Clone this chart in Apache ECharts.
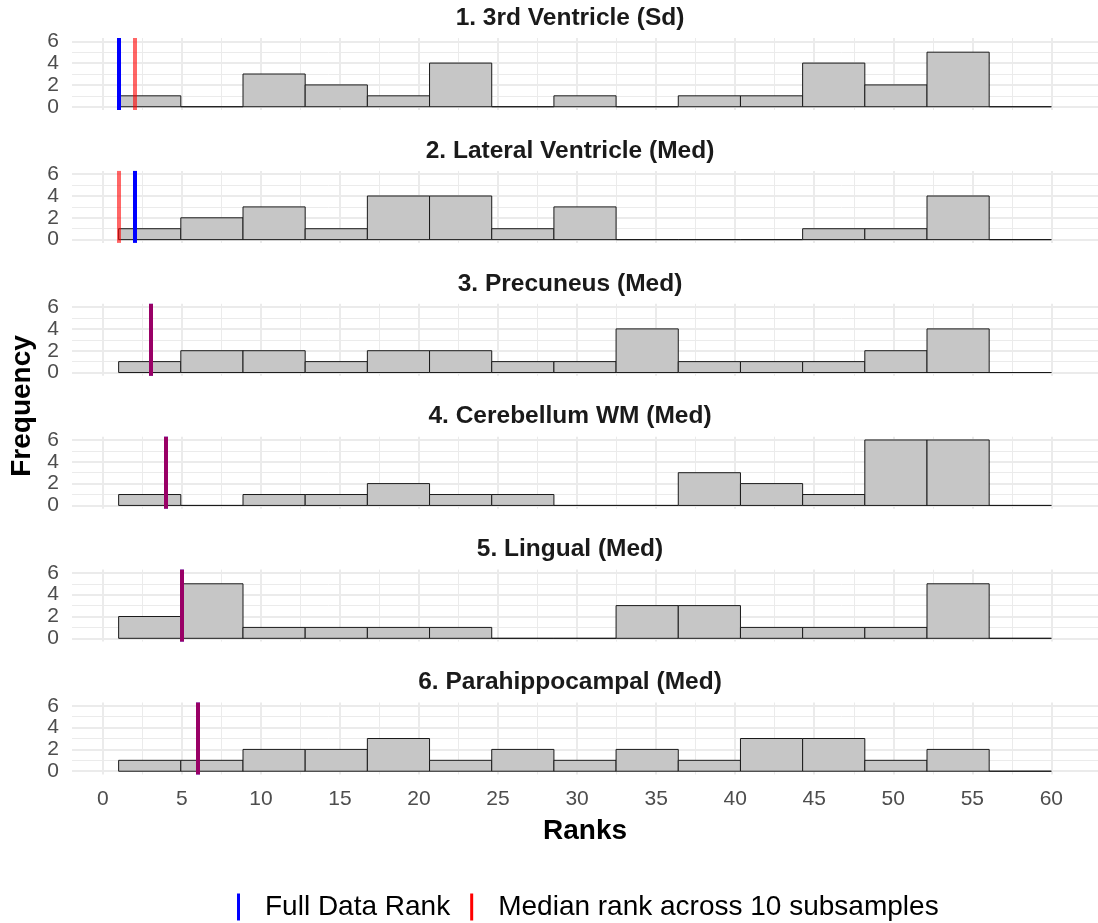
<!DOCTYPE html>
<html>
<head>
<meta charset="utf-8">
<script src="https://cdn.jsdelivr.net/npm/echarts@6/dist/echarts.min.js"></script>
<style>
html,body{margin:0;padding:0;background:#fff;}
#chart{width:1098px;height:923px;}
</style>
</head>
<body>
<div id="chart"></div>
<script>
// ---------------- data ----------------
const panelTitles = [
  '1. 3rd Ventricle (Sd)',
  '2. Lateral Ventricle (Med)',
  '3. Precuneus (Med)',
  '4. Cerebellum WM (Med)',
  '5. Lingual (Med)',
  '6. Parahippocampal (Med)'
];
// histogram bins: 15 equal bins from rank 1 to rank 60
const binLow = 1;
const binHigh = 60;
const binNumber = 15;
const counts3rdVentricle      = [1,0,3,2,1,4,0,1,0,1,1,4,2,5,0];
const countsLateralVentricle  = [1,2,3,1,4,4,1,3,0,0,0,1,1,4,0];
const countsPrecuneus         = [1,2,2,1,2,2,1,1,4,1,1,1,2,4,0];
const countsCerebellumWM      = [1,0,1,1,2,1,1,0,0,3,2,1,6,6,0];
const countsLingual           = [2,5,1,1,1,1,0,0,3,3,1,1,1,5,0];
const countsParahippocampal   = [1,1,2,2,3,1,2,1,2,1,3,3,1,2,0];
const fullDataRank = [1, 2, 3, 4, 5, 6];
const medianRank   = [2, 1, 3, 4, 5, 6];
const xTicks = [0,5,10,15,20,25,30,35,40,45,50,55,60];
const yTicks = [0,2,4,6];
const legendNames = ['Full Data Rank', 'Median rank across 10 subsamples'];

const allCounts = [counts3rdVentricle, countsLateralVentricle, countsPrecuneus,
                   countsCerebellumWM, countsLingual, countsParahippocampal];

// ---------------- layout ----------------
const FONT = '"Liberation Sans", Arial, Helvetica, sans-serif';
const nP = panelTitles.length;
const gridLeft = 72, gridWidth = 1031, gridH = 72, firstTop = 38, step = 132.9;
const xMin = -1.95, xMax = 62.95, yMin = -0.3, yMax = 6.3;

const binW = (binHigh - binLow) / binNumber;
const grids = [], xAxes = [], yAxes = [], series = [], graphics = [];

// gridline values (major + minor)
const xGridVals = [];
for (let i = 0; i < xTicks.length; i++) {
  xGridVals.push({v: xTicks[i], major: true});
  if (i < xTicks.length - 1) xGridVals.push({v: (xTicks[i] + xTicks[i+1]) / 2, major: false});
}
const yGridVals = [];
for (let i = 0; i < yTicks.length; i++) {
  yGridVals.push({v: yTicks[i], major: true});
  if (i < yTicks.length - 1) yGridVals.push({v: (yTicks[i] + yTicks[i+1]) / 2, major: false});
}

for (let p = 0; p < nP; p++) {
  const top = firstTop + step * p;
  grids.push({left: gridLeft, width: gridWidth, top: top, height: gridH, containLabel: false});
  const isBottom = p === nP - 1;
  xAxes.push({
    type: 'value', gridIndex: p, min: xMin, max: xMax,
    axisLine: {show: false}, axisTick: {show: false}, splitLine: {show: false},
    axisLabel: {show: isBottom, customValues: xTicks, color: '#4d4d4d', fontSize: 21,
                fontFamily: FONT, margin: 14}
  });
  yAxes.push({
    type: 'value', gridIndex: p, min: yMin, max: yMax,
    axisLine: {show: false}, axisTick: {show: false}, splitLine: {show: false},
    axisLabel: {show: true, customValues: yTicks, color: '#4d4d4d', fontSize: 21,
                fontFamily: FONT, margin: 13}
  });

  // gridlines
  const gl = [];
  xGridVals.forEach(g => gl.push({xAxis: g.v, lineStyle: {color: '#ebebeb', width: g.major ? 2 : 1, type: 'solid'}}));
  yGridVals.forEach(g => gl.push({yAxis: g.v, lineStyle: {color: '#ebebeb', width: g.major ? 2 : 1, type: 'solid'}}));
  series.push({
    type: 'line', xAxisIndex: p, yAxisIndex: p, data: [], z: 0, silent: true,
    markLine: {silent: true, symbol: ['none','none'], label: {show: false}, z: 0,
               animation: false, emphasis: {disabled: true}, data: gl}
  });

  // histogram bars
  const binData = allCounts[p].map((c, i) => [binLow + i * binW, binLow + (i + 1) * binW, c]);
  series.push({
    type: 'custom', xAxisIndex: p, yAxisIndex: p, z: 2, silent: true,
    data: binData,
    encode: {x: [0, 1], y: 2},
    renderItem: function (params, api) {
      const a = api.coord([api.value(0), api.value(2)]);
      const b = api.coord([api.value(1), 0]);
      return {
        type: 'rect',
        shape: {x: a[0], y: a[1], width: b[0] - a[0], height: b[1] - a[1]},
        style: {fill: '#c6c6c6', stroke: '#1a1a1a', lineWidth: 1}
      };
    }
  });

  // vertical reference lines
  series.push({
    name: legendNames[0], type: 'line', xAxisIndex: p, yAxisIndex: p, data: [], z: 4,
    itemStyle: {color: '#0000ff'}, lineStyle: {color: '#0000ff'},
    markLine: {silent: true, symbol: ['none','none'], label: {show: false}, z: 4, animation: false,
               lineStyle: {color: '#0000ff', width: 4, type: 'solid', opacity: 1},
               data: [{xAxis: fullDataRank[p]}]}
  });
  series.push({
    name: legendNames[1], type: 'line', xAxisIndex: p, yAxisIndex: p, data: [], z: 5,
    itemStyle: {color: '#ff0000'}, lineStyle: {color: '#ff0000'},
    markLine: {silent: true, symbol: ['none','none'], label: {show: false}, z: 5, animation: false,
               lineStyle: {color: '#ff0000', width: 4, type: 'solid', opacity: 0.6},
               data: [{xAxis: medianRank[p]}]}
  });

  graphics.push({
    type: 'text', x: 570, y: 18 + step * p, z: 10,
    style: {text: panelTitles[p], textAlign: 'center', textVerticalAlign: 'middle',
            font: 'bold 24.5px ' + FONT, fill: '#1a1a1a'}
  });
}

graphics.push({
  type: 'text', x: 22, y: 406, rotation: Math.PI / 2, z: 10,
  style: {text: 'Frequency', textAlign: 'center', textVerticalAlign: 'middle',
          font: 'bold 28px ' + FONT, fill: '#000'}
});
graphics.push({
  type: 'text', x: 585, y: 831, z: 10,
  style: {text: 'Ranks', textAlign: 'center', textVerticalAlign: 'middle',
          font: 'bold 28px ' + FONT, fill: '#000'}
});

const chart = echarts.init(document.getElementById('chart'), null, {renderer: 'canvas'});
chart.setOption({
  animation: false,
  backgroundColor: '#ffffff',
  grid: grids,
  xAxis: xAxes,
  yAxis: yAxes,
  legend: {
    data: [
      {name: legendNames[0], icon: 'rect', itemStyle: {color: '#0000ff', opacity: 1}},
      {name: legendNames[1], icon: 'rect', itemStyle: {color: '#ff0000', opacity: 1}}
    ],
    left: 237, top: 893, padding: 0,
    itemWidth: 3, itemHeight: 27, itemGap: 20,
    selectedMode: false,
    textStyle: {fontSize: 28, fontFamily: FONT, color: '#000', padding: [0, 0, 0, 20]}
  },
  series: series,
  graphic: graphics
});
</script>
</body>
</html>
